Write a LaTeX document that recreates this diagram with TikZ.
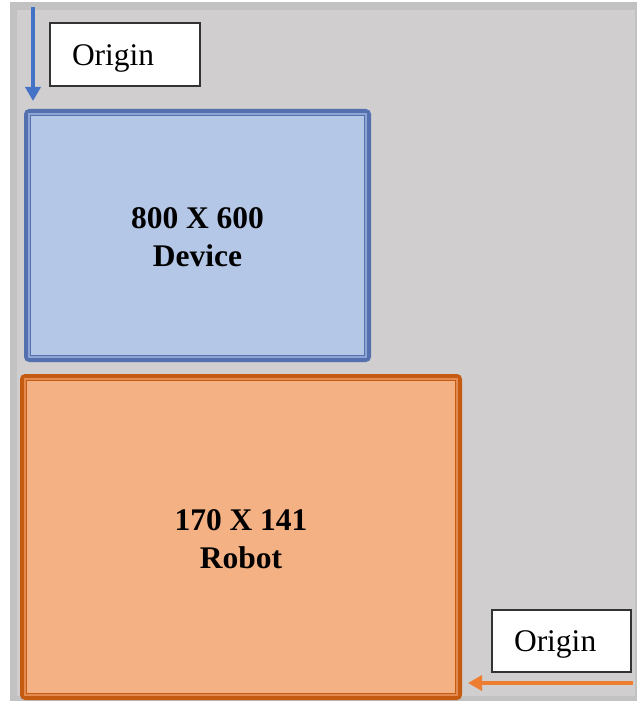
\documentclass[tikz,border=0pt]{standalone}
\usepackage{fontspec}
\setmainfont{Liberation Serif}
\usetikzlibrary{calc,arrows.meta}
\definecolor{bgouter}{HTML}{C2C2C2}
\definecolor{bginner}{HTML}{D0CECF}
\definecolor{bluefill}{HTML}{B4C7E7}
\definecolor{bluedark}{HTML}{5470AE}
\definecolor{bluelight}{HTML}{8EA5D3}
\definecolor{orangefill}{HTML}{F4B183}
\definecolor{orangedark}{HTML}{C55A11}
\definecolor{orangelight}{HTML}{E38A50}
\definecolor{arrowblue}{HTML}{4472C4}
\definecolor{arroworange}{HTML}{ED7D31}
\begin{document}
\begin{tikzpicture}[x=1pt,y=-1pt,
  bigbox/.style={line width=5pt, rounded corners=3pt, align=center, inner sep=0pt,
    font=\fontsize{31.5}{38}\selectfont\bfseries},
  originbox/.style={draw=black!80, line width=1.3pt, fill=white, align=left,
    inner xsep=22pt, inner ysep=0pt, minimum height=62pt,
    font=\fontsize{31.5}{38}\selectfont},
  arr/.style={line width=3.8pt, -{Triangle[length=14pt,width=15pt]}}]
\useasboundingbox (0,0) rectangle (638,708);
% background
\fill[white] (0,0) rectangle (638,708);
\fill[bgouter] (10,2) rectangle (637,701);
\fill[bginner] (17,10) rectangle (635,696);
% device box
\node[bigbox, draw=bluedark, fill=bluefill, minimum width=342pt, minimum height=248pt]
  (device) at (197.5,235.5) {\raisebox{-2pt}[\height][\depth]{800 X 600}\\\raisebox{-2pt}[\height][\depth]{Device}};
\draw[bluelight, line width=2.5pt] ($(device.north west)+(5,5)$) rectangle ($(device.south east)+(-5,-5)$);
\draw[bluedark, line width=1.2pt] ($(device.north west)+(6.5,6.5)$) rectangle ($(device.south east)+(-6.5,-6.5)$);
% robot box
\node[bigbox, draw=orangedark, fill=orangefill, minimum width=437pt, minimum height=321pt]
  (robot) at (241,537) {\raisebox{-2pt}[\height][\depth]{170 X 141}\\\raisebox{-2pt}[\height][\depth]{Robot}};
\draw[orangelight, line width=2.5pt] ($(robot.north west)+(5,5)$) rectangle ($(robot.south east)+(-5,-5)$);
\draw[orangedark, line width=1.2pt] ($(robot.north west)+(6.5,6.5)$) rectangle ($(robot.south east)+(-6.5,-6.5)$);
% origin boxes
\node[originbox, text width=106pt, minimum height=63pt] (origintop) at (125,54.5) {\raisebox{-3.5pt}[\height][\depth]{Origin}};
\node[originbox, text width=95pt] (originbot) at (561.5,641) {\raisebox{-3.5pt}[\height][\depth]{Origin}};
% arrows
\coordinate (bstart) at (33,7);
\coordinate (bend) at (33,101);
\draw[arr, arrowblue] (bstart) -- (bend);
\coordinate (ostart) at (633,683);
\coordinate (oend) at (468,683);
\draw[arr, arroworange] (ostart) -- (oend);
\end{tikzpicture}
\end{document}
